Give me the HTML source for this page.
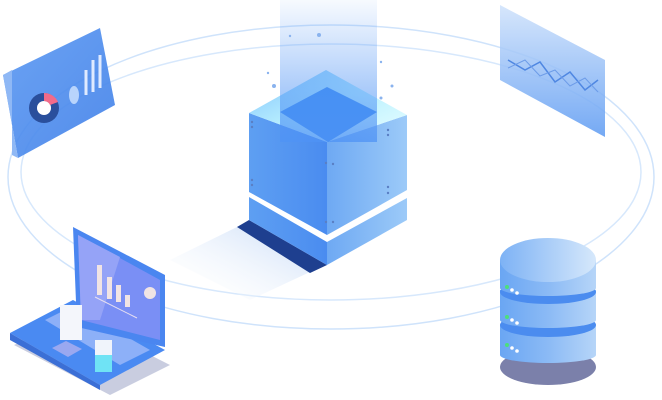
<!DOCTYPE html>
<html><head><style>html,body{margin:0;padding:0;background:#fff}svg{display:block}</style></head>
<body>
<svg width="662" height="400" viewBox="0 0 662 400" xmlns="http://www.w3.org/2000/svg">
<defs>
<linearGradient id="beam" x1="0" y1="0" x2="0" y2="1"><stop offset="0" stop-color="#5d9cf5" stop-opacity="0.05"/><stop offset="1" stop-color="#4f93f5" stop-opacity="0.75"/></linearGradient>
<linearGradient id="lf" x1="0" y1="0" x2="1" y2="0"><stop offset="0" stop-color="#5e9ff2"/><stop offset="1" stop-color="#4a8cf0"/></linearGradient>
<linearGradient id="rf" x1="0" y1="0" x2="1" y2="0"><stop offset="0" stop-color="#6ea9f3"/><stop offset="1" stop-color="#9ccaf8"/></linearGradient>
<linearGradient id="tf" x1="0" y1="0" x2="1" y2="1"><stop offset="0" stop-color="#7fc0fb"/><stop offset="0.5" stop-color="#b9f0ff"/><stop offset="1" stop-color="#eaffff"/></linearGradient>
<linearGradient id="sh" x1="1" y1="0" x2="0" y2="1"><stop offset="0" stop-color="#c9dcf7"/><stop offset="1" stop-color="#fff" stop-opacity="0"/></linearGradient>
<linearGradient id="db" x1="0" y1="0" x2="1" y2="0"><stop offset="0" stop-color="#6aa6f3"/><stop offset="0.5" stop-color="#8bbaf5"/><stop offset="1" stop-color="#b6d5f8"/></linearGradient>
<linearGradient id="dbt" x1="0" y1="0" x2="1" y2="0"><stop offset="0" stop-color="#7db2f5"/><stop offset="1" stop-color="#d6e8fb"/></linearGradient>
<linearGradient id="pan" x1="0" y1="0" x2="1" y2="1"><stop offset="0" stop-color="#5a98f2"/><stop offset="1" stop-color="#3f7fe8"/></linearGradient>
<linearGradient id="pan2" x1="0" y1="0" x2="0" y2="1"><stop offset="0" stop-color="#cfe2fb"/><stop offset="1" stop-color="#5c9af2"/></linearGradient>
</defs>
<!-- ellipses -->
<ellipse cx="331" cy="177" rx="323" ry="152" fill="none" stroke="#cfe3fb" stroke-width="1.5"/>
<ellipse cx="331" cy="172" rx="310" ry="128" fill="none" stroke="#d7e8fc" stroke-width="1.5"/>
<!-- floor shadow -->
<polygon points="237,227 310,272 250,300 170,260" fill="url(#sh)"/>
<polygon points="237,227 249,220 327,265 310,273" fill="#1e3f8f"/>
<!-- lower slab -->
<polygon points="249,197 327,242 327,265 249,220" fill="url(#lf)"/>
<polygon points="327,242 407,198 407,220 327,265" fill="url(#rf)"/>
<!-- cube body -->
<polygon points="249,113 327,142 327,235 249,192" fill="url(#lf)"/>
<polygon points="327,142 407,115 407,190 327,235" fill="url(#rf)"/>
<polygon points="326,70 407,115 327,142 249,113" fill="url(#tf)"/>
<polygon points="327,87 377,112 328,142 280,112" fill="#3a8bf2"/>
<!-- beam -->
<rect x="280" y="0" width="97" height="142" fill="url(#beam)"/>
<g fill="#5a7fc4"><circle cx="252" cy="122" r="1.2"/><circle cx="252" cy="127" r="1.2"/><circle cx="326" cy="163" r="1.2"/><circle cx="333" cy="164" r="1.2"/><circle cx="388" cy="130" r="1.2"/><circle cx="388" cy="135" r="1.2"/><circle cx="252" cy="180" r="1.2"/><circle cx="252" cy="185" r="1.2"/><circle cx="388" cy="187" r="1.2"/><circle cx="388" cy="193" r="1.2"/><circle cx="326" cy="222" r="1.2"/><circle cx="333" cy="222" r="1.2"/></g>
<g fill="#8ab3ee"><circle cx="319" cy="35" r="2"/><circle cx="290" cy="36" r="1.2"/><circle cx="268" cy="73" r="1.2"/><circle cx="274" cy="86" r="2"/><circle cx="381" cy="62" r="1.2"/><circle cx="392" cy="86" r="1.5"/><circle cx="381" cy="98" r="1.5"/></g>
<!-- top-left panel -->
<polygon points="3,75 100,28 115,105 18,158" fill="url(#pan)" opacity="0.9"/>
<polygon points="3,75 12,70 12,155 18,158" fill="#8fb8f5"/>
<circle cx="44" cy="108" r="15" fill="#2a4f9c"/><circle cx="44" cy="108" r="7" fill="#fff"/>
<path d="M44 93 A15 15 0 0 1 58 102 L50 105 A7 7 0 0 0 44 101 Z" fill="#f26b8a"/>
<ellipse cx="74" cy="95" rx="5" ry="9" fill="#cfe3ff" opacity="0.8"/>
<g stroke="#dfeaff" stroke-width="3"><line x1="86" y1="95" x2="86" y2="70"/><line x1="93" y1="92" x2="93" y2="60"/><line x1="100" y1="88" x2="100" y2="55"/></g>
<!-- top-right panel -->
<polygon points="500,5 605,60 605,137 500,80" fill="url(#pan2)" opacity="0.85"/>
<polyline points="508,60 525,70 540,62 555,82 570,72 585,90 598,80" fill="none" stroke="#4f87e2" stroke-width="1.5"/>
<polyline points="508,68 525,60 540,76 555,70 570,86 585,78 598,92" fill="none" stroke="#6d9ce8" stroke-width="1"/>
<!-- laptop -->
<polygon points="14,345 110,395 170,365 75,317" fill="#c9cde0"/>
<polygon points="10,333 73,300 165,350 100,385" fill="#4a8af2"/>
<polygon points="10,333 100,385 100,390 10,340" fill="#3b6fd6"/>
<polygon points="45,320 73,306 150,350 120,365" fill="#8db0f8"/>
<polygon points="52,348 66,341 82,349 68,357" fill="#9aa8f0"/>
<polygon points="73,227 165,275 165,347 77,327" fill="#4a86f0"/>
<polygon points="78,235 160,280 160,340 81,320" fill="#7a8ff5"/>
<polygon points="78,235 120,257 100,320 81,320" fill="#95a3f7"/>
<g fill="#f1e4e4"><rect x="97" y="265" width="5" height="30"/><rect x="107" y="277" width="5" height="22"/><rect x="116" y="285" width="5" height="17"/><rect x="125" y="295" width="5" height="12"/></g>
<line x1="95" y1="297" x2="137" y2="318" stroke="#e8e0f0" stroke-width="1"/>
<circle cx="150" cy="293" r="6" fill="#f1e4e4"/>
<rect x="60" y="305" width="22" height="35" fill="#f4f6fb"/>
<rect x="95" y="340" width="17" height="32" fill="#f0f4fb"/><rect x="95" y="355" width="17" height="17" fill="#6fe3f5"/>
<!-- database -->
<ellipse cx="548" cy="367" rx="48" ry="18" fill="#7b80aa"/>
<rect x="500" y="325" width="96" height="30" fill="url(#db)"/><ellipse cx="548" cy="355" rx="48" ry="8" fill="url(#db)"/>
<ellipse cx="548" cy="325" rx="48" ry="12" fill="#4b8cef"/>
<rect x="500" y="290" width="96" height="30" fill="url(#db)"/><ellipse cx="548" cy="320" rx="48" ry="8" fill="url(#db)"/>
<ellipse cx="548" cy="292" rx="48" ry="12" fill="#4b8cef"/>
<rect x="500" y="260" width="96" height="28" fill="url(#db)"/><ellipse cx="548" cy="288" rx="48" ry="8" fill="url(#db)"/>
<ellipse cx="548" cy="260" rx="48" ry="22" fill="url(#dbt)"/>
<g><circle cx="507" cy="287" r="2" fill="#4ce07a"/><circle cx="512" cy="290" r="1.8" fill="#fff"/><circle cx="517" cy="293" r="1.8" fill="#fff"/>
<circle cx="507" cy="317" r="2" fill="#4ce07a"/><circle cx="512" cy="320" r="1.8" fill="#fff"/><circle cx="517" cy="323" r="1.8" fill="#fff"/>
<circle cx="507" cy="345" r="2" fill="#4ce07a"/><circle cx="512" cy="348" r="1.8" fill="#fff"/><circle cx="517" cy="351" r="1.8" fill="#fff"/></g>
</svg>
</body></html>
